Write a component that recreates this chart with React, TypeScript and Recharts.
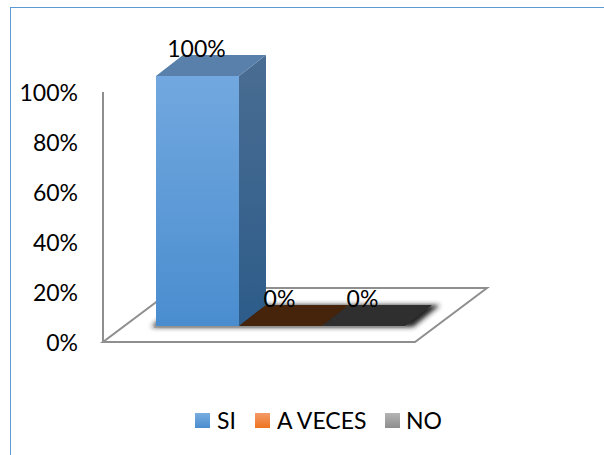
import React from "react";
import { BarChart, Bar, XAxis, YAxis, Legend, LabelList, usePlotArea } from "recharts";

const seriesNames = ["SI", "A VECES", "NO"];
const seriesValues = [1, 0, 0];
const axisTicks = [0, 0.2, 0.4, 0.6, 0.8, 1];

const row: Record<string, string | number> = { name: "" };
seriesNames.forEach((n, i) => (row[n] = seriesValues[i]));
const rows = [row];

const FONT = "Lato, Carlito, sans-serif";
const GRID = "#8f8f8f";
const TEXT_SIZE = 23;

// Depth of the pseudo 3D bars and the shift of their front faces on the floor.
const DEPTH_X = 27;
const DEPTH_Y = 21;
const FLOOR_SHIFT_X = 53;
const FLOOR_SHIFT_Y = 16;
const FLOOR_END_PAD = 10;
const FLOOR_SKEW_X = 72;
const FLOOR_SKEW_Y = 54;

const faces: Record<string, { front: [string, string]; side: [string, string]; top: string }> = {
  SI: { front: ["#72a8df", "#4a8dcf"], side: ["#4a6d92", "#2d5c8a"], top: "#5880ab" },
  "A VECES": { front: ["#45240b", "#45240b"], side: ["#45240b", "#45240b"], top: "#45240b" },
  NO: { front: ["#2f2f2f", "#2f2f2f"], side: ["#2f2f2f", "#2f2f2f"], top: "#2f2f2f" },
};

const legendSwatches: Record<string, [string, string]> = {
  SI: ["#78ade0", "#4a8dcf"],
  "A VECES": ["#f49a68", "#ee7420"],
  NO: ["#b4b4b4", "#8e8e8e"],
};

function Floor() {
  const plot = usePlotArea();
  if (!plot) return null;
  const left = plot.x;
  const right = plot.x + plot.width;
  const bottom = plot.y + plot.height;
  const points = [
    [left, bottom],
    [right, bottom],
    [right + FLOOR_SKEW_X, bottom - FLOOR_SKEW_Y],
    [left + FLOOR_SKEW_X, bottom - FLOOR_SKEW_Y],
  ]
    .map((p) => p.join(","))
    .join(" ");
  const sx0 = left + FLOOR_SHIFT_X - 5;
  const sx1 = right - FLOOR_END_PAD + 8;
  const sy = bottom - FLOOR_SHIFT_Y;
  return (
    <g>
      <defs>
        <filter id="floorShadow" x="-10%" y="-50%" width="120%" height="200%">
          <feGaussianBlur stdDeviation="2.4" />
        </filter>
        {seriesNames.map((n) => (
          <React.Fragment key={n}>
            <linearGradient id={`front-${n.replace(" ", "")}`} x1="0" y1="0" x2="0" y2="1">
              <stop offset="0" stopColor={faces[n].front[0]} />
              <stop offset="1" stopColor={faces[n].front[1]} />
            </linearGradient>
            <linearGradient id={`side-${n.replace(" ", "")}`} x1="0" y1="0" x2="0" y2="1">
              <stop offset="0" stopColor={faces[n].side[0]} />
              <stop offset="1" stopColor={faces[n].side[1]} />
            </linearGradient>
          </React.Fragment>
        ))}
      </defs>
      <polygon points={points} fill="#fff" stroke={GRID} strokeWidth={2} strokeLinejoin="miter" />
      <polygon
        points={`${sx0},${sy + 1} ${sx1},${sy + 1} ${sx1 + DEPTH_X},${sy - DEPTH_Y} ${sx0 + DEPTH_X},${sy - DEPTH_Y}`}
        fill="#222"
        filter="url(#floorShadow)"
      />
      <line x1={sx0 + 3} y1={sy + 1} x2={sx1 - 7} y2={sy + 1} stroke="#999" strokeWidth={1.5} />
    </g>
  );
}

function Block(props: any) {
  const { x, y, width, height, dataKey } = props;
  const key = String(dataKey);
  const id = key.replace(" ", "");
  const x0 = x;
  const x1 = x + width;
  const top = y - FLOOR_SHIFT_Y;
  const base = top + height;
  return (
    <g>
      {height > 0 && <rect x={x0} y={top} width={width} height={height} fill={`url(#front-${id})`} />}
      {height > 0 && (
        <polygon
          points={`${x1},${top} ${x1 + DEPTH_X},${top - DEPTH_Y} ${x1 + DEPTH_X},${base - DEPTH_Y} ${x1},${base}`}
          fill={`url(#side-${id})`}
        />
      )}
      <polygon
        points={`${x0},${top} ${x1},${top} ${x1 + DEPTH_X},${top - DEPTH_Y} ${x0 + DEPTH_X},${top - DEPTH_Y}`}
        fill={faces[key].top}
      />
    </g>
  );
}

function ValueLabel(props: any) {
  const { x, y, width, value } = props;
  return (
    <text
      x={x + width / 2 - 1}
      y={y - FLOOR_SHIFT_Y - 28}
      textAnchor="middle"
      dominantBaseline="central"
      fontFamily={FONT}
      fontSize={TEXT_SIZE}
      fill="#000"
    >
      {`${Math.round(Number(value) * 100)}%`}
    </text>
  );
}

function PercentTick(props: any) {
  const { x, y, payload } = props;
  return (
    <text
      x={x}
      y={y}
      textAnchor="end"
      dominantBaseline="central"
      fontFamily={FONT}
      fontSize={TEXT_SIZE}
      fill="#000"
    >
      {`${Math.round(payload.value * 100)}%`}
    </text>
  );
}

function LegendRow() {
  return (
    <div style={{ position: "relative", height: 30, fontFamily: FONT, fontSize: TEXT_SIZE, color: "#000" }}>
      {seriesNames.map((n, i) => (
        <div
          key={n}
          style={{ position: "absolute", left: [0, 60, 190][i], top: 0, display: "flex", alignItems: "center", height: 30, whiteSpace: "nowrap" }}
        >
          <span
            style={{
              width: 15,
              height: 15,
              marginRight: i === 2 ? 6 : 7,
              background: `linear-gradient(${legendSwatches[n][0]}, ${legendSwatches[n][1]})`,
            }}
          />
          {n}
        </div>
      ))}
    </div>
  );
}

export default function App() {
  return (
    <div style={{ position: "absolute", left: 0, top: 0, width: 604, height: 455, background: "#fff", overflow: "hidden" }}>
      <div
        style={{
          position: "absolute",
          left: 10,
          top: 7,
          right: 0,
          bottom: 0,
          borderLeft: "1px solid #5b9bd5",
          borderTop: "1px solid #5b9bd5",
        }}
      />
      <BarChart
        width={604}
        height={455}
        data={rows}
        margin={{ top: 92, right: 189, bottom: 83, left: 0 }}
        barGap={0}
        barCategoryGap={0}
        style={{ position: "absolute", left: 0, top: 0 }}
      >
        <Floor />
        <XAxis dataKey="name" hide padding={{ left: FLOOR_SHIFT_X, right: FLOOR_END_PAD }} />
        <YAxis
          width={103}
          domain={[0, 1]}
          ticks={axisTicks}
          tickLine={false}
          tickSize={0}
          tickMargin={25}
          axisLine={{ stroke: GRID, strokeWidth: 2 }}
          tick={<PercentTick />}
          interval={0}
        />
        {seriesNames.map((n) => (
          <Bar key={n} dataKey={n} fill={legendSwatches[n][1]} shape={<Block />} isAnimationActive={false}>
            <LabelList dataKey={n} content={<ValueLabel />} />
          </Bar>
        ))}
        <Legend
          content={<LegendRow />}
          wrapperStyle={{ position: "absolute", left: 195, top: 405, width: 260, height: 30, bottom: "auto" }}
        />
      </BarChart>
    </div>
  );
}
